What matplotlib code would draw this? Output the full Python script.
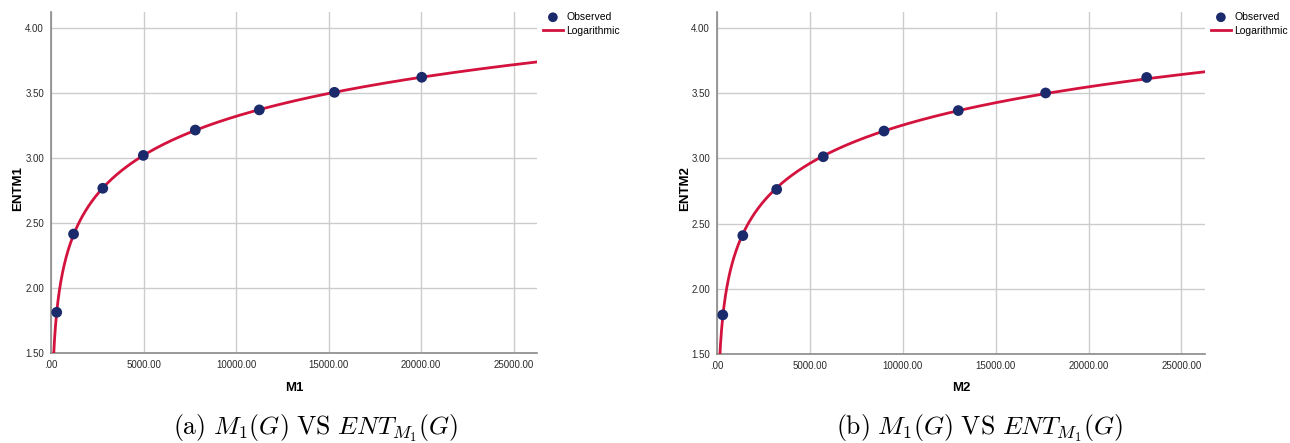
import numpy as np
import matplotlib
matplotlib.use("Agg")
import matplotlib.pyplot as plt

plt.rcParams['font.family'] = ['Liberation Sans', 'DejaVu Sans']
plt.rcParams['mathtext.fontset'] = 'cm'

# Data
m1_x = [310, 1220, 2800, 4990, 7800, 11260, 15320, 20040]
ent1_y = [1.813, 2.415, 2.767, 3.020, 3.215, 3.370, 3.505, 3.621]
m2_x = [310, 1390, 3213, 5720, 8990, 12990, 17690, 23130]
ent2_y = [1.800, 2.408, 2.762, 3.013, 3.210, 3.367, 3.502, 3.621]

x_ticks = [0, 5000, 10000, 15000, 20000, 25000]
x_tick_labels = ['.00', '5000.00', '10000.00', '15000.00', '20000.00', '25000.00']
y_ticks = [1.5, 2.0, 2.5, 3.0, 3.5, 4.0]
y_tick_labels = ['1.50', '2.00', '2.50', '3.00', '3.50', '4.00']

panels = [
    dict(x=m1_x, y=ent1_y, xlabel='M1', ylabel='ENTM1',
         caption=r'$\mathrm{(a)}\ M_1(G)\ \mathrm{VS}\ ENT_{M_1}(G)$',
         rect=[51, 12, 537, 353], legend_x=543, caption_x=316, ylab_x=18),
    dict(x=m2_x, y=ent2_y, xlabel='M2', ylabel='ENTM2',
         caption=r'$\mathrm{(b)}\ M_1(G)\ \mathrm{VS}\ ENT_{M_1}(G)$',
         rect=[717, 12, 1205, 354], legend_x=1211, caption_x=979, ylab_x=685),
]

W, H = 1290, 443
fig = plt.figure(figsize=(W / 100, H / 100), dpi=100)

navy = '#1b2a6b'
red = '#d3133d'
grid_c = '#cccccc'
spine_c = '#8a8a8a'

for p in panels:
    l, t, r, b = p['rect']
    ax = fig.add_axes([l / W, 1 - b / H, (r - l) / W, (b - t) / H])
    xs = np.array(p['x'], dtype=float)
    ys = np.array(p['y'], dtype=float)
    coef = np.polyfit(np.log(xs), ys, 1)
    xmax = 26270
    xx = np.linspace(60, xmax, 2000)
    ax.plot(xx, coef[1] + coef[0] * np.log(xx), color=red, lw=2.0,
            label='Logarithmic', zorder=3)
    ax.scatter(xs, ys, s=60, color=navy, label='Observed', zorder=4,
               edgecolors='none')
    ax.set_xlim(0, xmax)
    ax.set_ylim(1.5, 4.123)
    ax.set_xticks(x_ticks)
    ax.set_xticklabels(x_tick_labels)
    ax.set_yticks(y_ticks)
    ax.set_yticklabels(y_tick_labels)
    ax.tick_params(length=0, labelsize=7, colors='#2a2a2a', pad=5)
    ax.grid(True, color=grid_c, lw=1.0)
    ax.set_axisbelow(True)
    for s in ['top', 'right']:
        ax.spines[s].set_visible(False)
    for s in ['left', 'bottom']:
        ax.spines[s].set_color(spine_c)
        ax.spines[s].set_linewidth(1.2)
    ax.set_xlabel(p['xlabel'], fontsize=9.5, fontweight='bold')
    ax.xaxis.set_label_coords(0.5, -(388 - b) / (b - t))
    ax.xaxis.label.set_va('center')
    ax.set_ylabel(p['ylabel'], fontsize=9.5, fontweight='bold')
    ax.yaxis.set_label_coords(-(l - p['ylab_x']) / (r - l), 0.5 - 6 / (b - t))
    ax.yaxis.label.set_va('center')

    handles, labels = ax.get_legend_handles_labels()
    order = [labels.index('Observed'), labels.index('Logarithmic')]
    ax.legend([handles[i] for i in order], [labels[i] for i in order],
              loc='upper left', bbox_to_anchor=(p['legend_x'] / W, 1 - 12 / H),
              bbox_transform=fig.transFigure, frameon=False, fontsize=7.5,
              handlelength=1.9, handletextpad=0.35, borderpad=0,
              borderaxespad=0, labelspacing=0.35, markerscale=0.9)

    fig.text(p['caption_x'] / W, 1 - 428 / H, p['caption'], fontsize=18.5,
             ha='center', va='center')

fig.savefig('out.png', dpi=100)
